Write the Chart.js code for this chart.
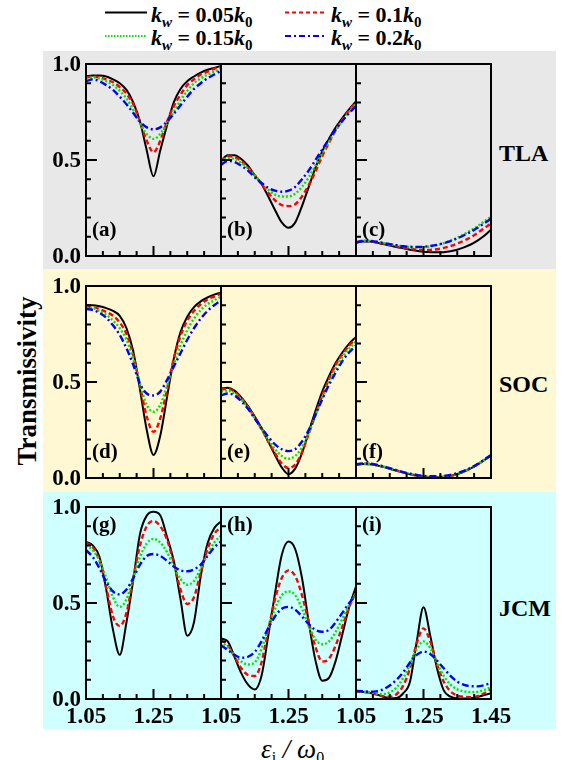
<!DOCTYPE html>
<html>
<head>
<meta charset="utf-8">
<script src="https://cdn.jsdelivr.net/npm/chart.js@4.4.1/dist/chart.umd.min.js"></script>
<style>
  body { margin: 0; background: #fff; }
  #fig { position: relative; width: 567px; height: 760px; overflow: hidden;
         font-family: "Liberation Serif", "Times New Roman", serif; color: #000; }
  .band { position: absolute; left: 43px; width: 513px; }
  canvas { position: absolute; }
  .t { position: absolute; white-space: nowrap; font-weight: bold; }
  .leg { font-size: 22px; line-height: 24px; }
  .leg sub { font-size: 15px; vertical-align: -5px; line-height: 0; }
  .row { font-size: 24px; line-height: 28px; }
  #ytitle { font-size: 27px; left: 27px; top: 381px; transform: translate(-50%, -50%) rotate(-90deg); }
  #xtitle { font-weight: normal; font-style: italic; font-size: 27px; left: 261px; top: 734px; line-height: 30px; }
  #xtitle sub { font-size: 16px; font-style: normal; vertical-align: -5px; line-height: 0; }
</style>
</head>
<body>
<div id="fig">
  <div class="band" style="top:51px;height:218px;background:#e8e8e8"></div>
  <div class="band" style="top:269px;height:223px;background:#fff8d2"></div>
  <div class="band" style="top:492px;height:237px;background:#d0ffff"></div>

  <svg style="position:absolute;left:0;top:0" width="567" height="50">
    <line x1="105" y1="12.5" x2="147" y2="12.5" stroke="#000" stroke-width="2"/>
    <line x1="285" y1="12.5" x2="325" y2="12.5" stroke="#ff0000" stroke-width="2" stroke-dasharray="4 3"/>
    <line x1="105" y1="36" x2="147" y2="36" stroke="#00e600" stroke-width="2" stroke-dasharray="1.5 1.5"/>
    <line x1="285" y1="36" x2="325" y2="36" stroke="#0000ff" stroke-width="2" stroke-dasharray="6 3 2 3"/>
  </svg>
  <div class="t leg" style="left:151px;top:3px"><i>k</i><sub><i>w</i></sub> = 0.05<i>k</i><sub>0</sub></div>
  <div class="t leg" style="left:331px;top:3px"><i>k</i><sub><i>w</i></sub> = 0.1<i>k</i><sub>0</sub></div>
  <div class="t leg" style="left:151px;top:26px"><i>k</i><sub><i>w</i></sub> = 0.15<i>k</i><sub>0</sub></div>
  <div class="t leg" style="left:331px;top:26px"><i>k</i><sub><i>w</i></sub> = 0.2<i>k</i><sub>0</sub></div>

  <div class="t row" style="left:499px;top:139px">TLA</div>
  <div class="t row" style="left:499px;top:370px">SOC</div>
  <div class="t row" style="left:499px;top:594px">JCM</div>

  <div class="t" id="ytitle">Transmissivity</div>
  <div class="t" id="xtitle">ε<sub>i</sub> / ω<sub>0</sub></div>
</div>

<script>
// photon energy axis, shared by all nine panels
const xs = [1.05, 1.07, 1.09, 1.11, 1.13, 1.15, 1.17, 1.19, 1.21, 1.23, 1.25,
            1.27, 1.29, 1.31, 1.33, 1.35, 1.37, 1.39, 1.41, 1.43, 1.45];

// TLA
const a_k05 = [0.935,0.94,0.94,0.935,0.92,0.90,0.865,0.80,0.70,0.55,0.415,0.55,0.68,0.80,0.87,0.91,0.935,0.955,0.97,0.98,0.99];
const a_k10 = [0.93,0.935,0.93,0.92,0.905,0.88,0.845,0.79,0.70,0.60,0.54,0.60,0.70,0.78,0.84,0.89,0.92,0.945,0.96,0.975,0.985];
const a_k15 = [0.925,0.93,0.925,0.91,0.89,0.86,0.82,0.76,0.69,0.635,0.61,0.635,0.69,0.75,0.81,0.86,0.90,0.925,0.945,0.96,0.975];
const a_k20 = [0.91,0.92,0.91,0.89,0.865,0.83,0.79,0.745,0.70,0.67,0.66,0.67,0.70,0.74,0.785,0.83,0.87,0.90,0.925,0.945,0.965];

const b_k05 = [0.495,0.525,0.525,0.505,0.47,0.42,0.375,0.31,0.24,0.175,0.147,0.175,0.26,0.36,0.46,0.545,0.61,0.67,0.72,0.765,0.805];
const b_k10 = [0.495,0.52,0.515,0.495,0.46,0.42,0.375,0.33,0.29,0.265,0.26,0.27,0.31,0.37,0.44,0.52,0.59,0.655,0.71,0.76,0.80];
const b_k15 = [0.49,0.51,0.505,0.485,0.455,0.42,0.38,0.345,0.32,0.31,0.31,0.325,0.36,0.41,0.47,0.535,0.595,0.655,0.705,0.75,0.795];
const b_k20 = [0.475,0.495,0.49,0.47,0.445,0.41,0.38,0.355,0.34,0.335,0.34,0.36,0.40,0.445,0.50,0.555,0.61,0.66,0.705,0.745,0.78];

const c_k05 = [0.068,0.075,0.075,0.07,0.062,0.055,0.047,0.04,0.033,0.027,0.022,0.02,0.019,0.02,0.025,0.033,0.045,0.06,0.08,0.105,0.138];
const c_k10 = [0.07,0.078,0.077,0.072,0.065,0.058,0.05,0.043,0.037,0.033,0.031,0.032,0.035,0.042,0.052,0.065,0.08,0.098,0.12,0.145,0.17];
const c_k15 = [0.072,0.08,0.079,0.075,0.068,0.061,0.055,0.05,0.047,0.045,0.046,0.05,0.057,0.067,0.08,0.095,0.113,0.133,0.155,0.18,0.205];
const c_k20 = [0.07,0.078,0.078,0.074,0.068,0.062,0.056,0.051,0.048,0.047,0.048,0.052,0.058,0.067,0.078,0.092,0.108,0.126,0.147,0.17,0.195];

// SOC
const d_k05 = [0.90,0.90,0.895,0.885,0.87,0.845,0.78,0.66,0.46,0.25,0.12,0.22,0.42,0.62,0.76,0.84,0.89,0.92,0.94,0.955,0.965];
const d_k10 = [0.895,0.89,0.88,0.865,0.845,0.81,0.75,0.64,0.48,0.32,0.24,0.31,0.46,0.62,0.74,0.82,0.87,0.905,0.93,0.945,0.96];
const d_k15 = [0.89,0.885,0.87,0.85,0.82,0.78,0.72,0.62,0.49,0.38,0.345,0.38,0.48,0.59,0.69,0.77,0.83,0.875,0.905,0.925,0.945];
const d_k20 = [0.88,0.875,0.86,0.835,0.795,0.745,0.675,0.59,0.49,0.44,0.43,0.45,0.51,0.58,0.65,0.72,0.78,0.83,0.87,0.90,0.925];

const e_k05 = [0.465,0.47,0.455,0.42,0.375,0.32,0.26,0.19,0.12,0.055,0.02,0.05,0.13,0.24,0.35,0.45,0.53,0.60,0.655,0.70,0.735];
const e_k10 = [0.46,0.465,0.45,0.415,0.37,0.315,0.255,0.19,0.13,0.075,0.052,0.07,0.135,0.23,0.33,0.43,0.515,0.59,0.645,0.69,0.725];
const e_k15 = [0.45,0.455,0.44,0.41,0.365,0.31,0.255,0.20,0.15,0.115,0.10,0.115,0.16,0.235,0.325,0.415,0.50,0.57,0.63,0.675,0.71];
const e_k20 = [0.43,0.44,0.43,0.40,0.36,0.31,0.26,0.215,0.175,0.15,0.14,0.15,0.19,0.25,0.33,0.41,0.485,0.55,0.61,0.655,0.69];

const f_k05 = [0.068,0.073,0.072,0.066,0.058,0.048,0.038,0.028,0.019,0.011,0.006,0.003,0.003,0.005,0.01,0.02,0.033,0.05,0.07,0.093,0.117];
const f_k10 = [0.069,0.074,0.073,0.067,0.059,0.049,0.039,0.029,0.02,0.012,0.007,0.004,0.004,0.006,0.011,0.021,0.034,0.051,0.071,0.094,0.118];
const f_k15 = [0.07,0.075,0.074,0.068,0.06,0.05,0.04,0.03,0.021,0.014,0.009,0.006,0.006,0.008,0.013,0.023,0.035,0.052,0.072,0.095,0.119];
const f_k20 = [0.071,0.076,0.075,0.069,0.061,0.051,0.041,0.031,0.023,0.016,0.011,0.009,0.009,0.011,0.016,0.025,0.037,0.053,0.073,0.096,0.12];

// JCM
const g_k05 = [0.818,0.80,0.74,0.57,0.36,0.23,0.40,0.62,0.86,0.955,0.975,0.957,0.845,0.72,0.52,0.33,0.40,0.64,0.81,0.89,0.925];
const g_k10 = [0.815,0.79,0.72,0.58,0.43,0.38,0.45,0.63,0.80,0.90,0.927,0.90,0.83,0.71,0.57,0.495,0.53,0.66,0.78,0.86,0.895];
const g_k15 = [0.80,0.775,0.72,0.63,0.53,0.48,0.52,0.63,0.74,0.81,0.834,0.815,0.765,0.69,0.625,0.595,0.615,0.68,0.75,0.815,0.85];
const g_k20 = [0.775,0.74,0.68,0.61,0.56,0.545,0.57,0.63,0.70,0.745,0.755,0.745,0.72,0.69,0.67,0.665,0.675,0.70,0.745,0.79,0.82];

const h_k05 = [0.315,0.30,0.22,0.135,0.075,0.05,0.12,0.33,0.55,0.75,0.82,0.78,0.63,0.40,0.20,0.095,0.11,0.20,0.34,0.48,0.585];
const h_k10 = [0.305,0.28,0.22,0.16,0.125,0.12,0.19,0.36,0.52,0.63,0.67,0.64,0.54,0.40,0.27,0.195,0.21,0.28,0.38,0.48,0.555];
const h_k15 = [0.30,0.27,0.23,0.195,0.18,0.19,0.26,0.37,0.47,0.54,0.56,0.54,0.47,0.38,0.31,0.285,0.30,0.35,0.42,0.49,0.55];
const h_k20 = [0.28,0.255,0.23,0.215,0.22,0.245,0.30,0.37,0.43,0.47,0.48,0.465,0.43,0.39,0.36,0.35,0.36,0.40,0.45,0.50,0.54];

const i_k05 = [0.04,0.037,0.033,0.025,0.012,0.004,0.005,0.03,0.09,0.30,0.478,0.33,0.16,0.045,0.012,0.003,0.002,0.004,0.01,0.02,0.03];
const i_k10 = [0.04,0.037,0.032,0.024,0.015,0.012,0.025,0.07,0.16,0.29,0.368,0.30,0.18,0.09,0.04,0.018,0.011,0.01,0.015,0.03,0.052];
const i_k15 = [0.04,0.038,0.034,0.028,0.026,0.035,0.06,0.11,0.18,0.26,0.30,0.265,0.19,0.12,0.075,0.05,0.04,0.036,0.037,0.047,0.062];
const i_k20 = [0.042,0.04,0.038,0.04,0.05,0.07,0.10,0.14,0.19,0.23,0.247,0.235,0.20,0.16,0.12,0.09,0.074,0.067,0.066,0.072,0.083];

// ticks
const yMajor = [0, 0.5, 1];
const yMinor = [0.1, 0.2, 0.3, 0.4, 0.6, 0.7, 0.8, 0.9];
const yTickLabels = ['0.0', '0.5', '1.0'];
const xMajor = [1.05, 1.25, 1.45];
const xMinor = [1.10, 1.15, 1.20, 1.30, 1.35, 1.40];
const xTickLabels = ['1.05', '1.25', '1.45'];

// line styles per k_w
const colors = ['#000000', '#ff0000', '#00e600', '#0000ff'];
const dashes = [[], [5, 3], [2, 2], [7, 3, 2, 3]];
const widths = [2, 2.4, 2.4, 2.4];

// plot-area geometry
const colLeft = [86, 221, 356];
const rowTop = [64, 286, 507];
const PW = 135, PH = 192;
const PAD = { left: 60, top: 20, right: 20, bottom: 45 };

const panels = [
  { tag: '(a)', row: 0, col: 0, ys: [a_k05, a_k10, a_k15, a_k20] },
  { tag: '(b)', row: 0, col: 1, ys: [b_k05, b_k10, b_k15, b_k20] },
  { tag: '(c)', row: 0, col: 2, ys: [c_k05, c_k10, c_k15, c_k20] },
  { tag: '(d)', row: 1, col: 0, ys: [d_k05, d_k10, d_k15, d_k20] },
  { tag: '(e)', row: 1, col: 1, ys: [e_k05, e_k10, e_k15, e_k20] },
  { tag: '(f)', row: 1, col: 2, ys: [f_k05, f_k10, f_k15, f_k20] },
  { tag: '(g)', row: 2, col: 0, ys: [g_k05, g_k10, g_k15, g_k20] },
  { tag: '(h)', row: 2, col: 1, ys: [h_k05, h_k10, h_k15, h_k20] },
  { tag: '(i)', row: 2, col: 2, ys: [i_k05, i_k10, i_k15, i_k20] }
];

// frame, inward ticks, tick labels and panel tag
const frame = {
  id: 'frame',
  afterDatasetsDraw(chart, args, o) {
    const { ctx, chartArea: a, scales: { x, y } } = chart;
    ctx.save();
    ctx.strokeStyle = '#000';
    ctx.lineWidth = 2;
    ctx.beginPath();
    yMajor.forEach(v => { const p = y.getPixelForValue(v); ctx.moveTo(a.left, p); ctx.lineTo(a.left + 11, p); });
    yMinor.forEach(v => { const p = y.getPixelForValue(v); ctx.moveTo(a.left, p); ctx.lineTo(a.left + 5, p); });
    xMajor.forEach(v => { const p = x.getPixelForValue(v); ctx.moveTo(p, a.bottom); ctx.lineTo(p, a.bottom - 10); });
    xMinor.forEach(v => { const p = x.getPixelForValue(v); ctx.moveTo(p, a.bottom); ctx.lineTo(p, a.bottom - 5); });
    ctx.stroke();
    ctx.strokeRect(a.left, a.top, a.right - a.left, a.bottom - a.top);

    ctx.fillStyle = '#000';
    ctx.font = 'bold 23px "Liberation Serif"';
    if (o.yLabels) {
      ctx.textAlign = 'right';
      ctx.textBaseline = 'middle';
      yMajor.forEach((v, k) => ctx.fillText(yTickLabels[k], a.left - 5, y.getPixelForValue(v) + 1));
    }
    if (o.xCount) {
      ctx.textAlign = 'center';
      ctx.textBaseline = 'middle';
      for (let k = 0; k < o.xCount; k++) ctx.fillText(xTickLabels[k], x.getPixelForValue(xMajor[k]), a.bottom + 18);
    }
    ctx.font = 'bold 21px "Liberation Serif"';
    ctx.textAlign = 'left';
    ctx.textBaseline = 'middle';
    ctx.fillText(o.tag, a.left + 6, o.top ? a.top + 19 : a.bottom - 25);
    ctx.restore();
  }
};

const fig = document.getElementById('fig');
panels.forEach(p => {
  const cv = document.createElement('canvas');
  cv.width = PW + PAD.left + PAD.right;
  cv.height = PH + PAD.top + PAD.bottom;
  cv.style.left = (colLeft[p.col] - PAD.left) + 'px';
  cv.style.top = (rowTop[p.row] - PAD.top) + 'px';
  fig.appendChild(cv);

  new Chart(cv.getContext('2d'), {
    type: 'line',
    data: {
      datasets: p.ys.map((arr, k) => ({
        data: xs.map((x, n) => ({ x: x, y: arr[n] })),
        borderColor: colors[k],
        borderDash: dashes[k],
        borderWidth: widths[k],
        order: 3 - k,
        pointRadius: 0,
        fill: false,
        cubicInterpolationMode: 'monotone'
      }))
    },
    options: {
      responsive: false,
      animation: false,
      devicePixelRatio: 1,
      layout: { padding: PAD },
      scales: {
        x: { type: 'linear', min: 1.05, max: 1.45, display: false },
        y: { type: 'linear', min: 0, max: 1, display: false }
      },
      plugins: {
        legend: { display: false },
        tooltip: { enabled: false },
        frame: {
          tag: p.tag,
          top: p.row === 2,
          yLabels: p.col === 0,
          xCount: p.row === 2 ? (p.col === 2 ? 3 : 2) : 0
        }
      }
    },
    plugins: [frame]
  });
});
</script>
</body>
</html>
